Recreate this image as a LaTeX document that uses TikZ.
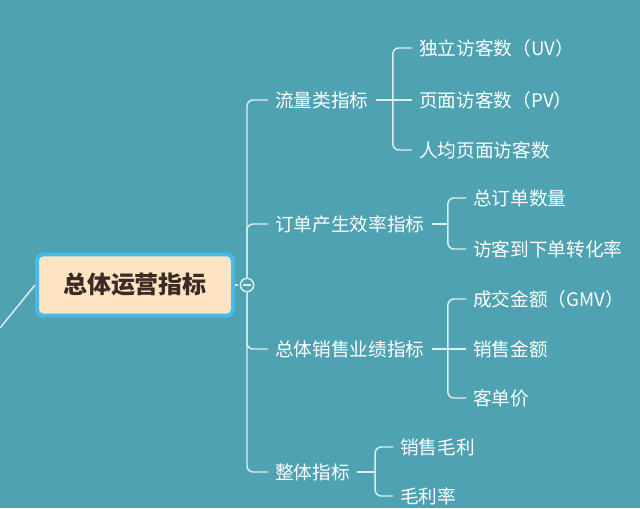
\documentclass[tikz,border=0pt]{standalone}
\usepackage{fontspec}
\newfontfamily\cjk{Noto Sans CJK SC}
\usetikzlibrary{calc}
\definecolor{teal bg}{RGB}{78,162,178}
\definecolor{link col}{RGB}{222,238,238}
\definecolor{root fill}{RGB}{255,228,196}
\definecolor{root edge}{RGB}{72,186,232}
\definecolor{root text}{RGB}{58,44,36}

\begin{document}
\begin{tikzpicture}[x=0.75pt, y=-0.75pt,
  every node/.style={font=\cjk\fontsize{14}{16}\selectfont, text=white, inner xsep=5.25pt, inner ysep=2pt},
  link/.style={draw=link col, line width=1.1pt},
  elbow/.style={link, rounded corners=4.5pt},
  leaf/.style={anchor=west}]
  % canvas 640 x 508 px
  \fill[teal bg] (0,0) rectangle (640,508);
  \useasboundingbox (0,0) rectangle (640,508);
  % root and its collapse dot
  \node[fill=root fill, draw=root edge, line width=3pt, rounded corners=5pt,
        minimum width=147pt, minimum height=46pt, text=root text,
        font=\cjk\bfseries\fontsize{18}{20}\selectfont] (root) at (135,285) {总体运营指标};
  \coordinate (incoming) at (0,328);
  \draw[link] (incoming) -- (root.west);
  \node[draw=link col, line width=1.1pt, circle, minimum size=10pt, inner sep=0pt] (dot) at (247,285) {};
  \draw[link col, line width=1.1pt] ($(dot.center)+(-4,0)$) -- ($(dot.center)+(4,0)$);
  \draw[link, dashed, dash pattern=on 2pt off 1.5pt] (root.east) -- (dot.west);
  % first level
  \node[leaf] (flow)  at (268,100) {流量类指标};
  \node[leaf] (order) at (268,224) {订单产生效率指标};
  \node[leaf] (sales) at (268,349) {总体销售业绩指标};
  \node[leaf] (whole) at (268,472) {整体指标};
  \draw[elbow] (dot.north) |- (flow.west);
  \draw[elbow] (dot.north) |- (order.west);
  \draw[elbow] (dot.south) |- (sales.west);
  \draw[elbow] (dot.south) |- (whole.west);
  % traffic
  \node[leaf] (uv)  at (412,48)  {独立访客数（UV）};
  \node[leaf] (pv)  at (412,100) {页面访客数（PV）};
  \node[leaf] (avg) at (412,150) {人均页面访客数};
  \path (flow.east) ++(17,0) coordinate (flowfork);
  \draw[link] (flow.east) -- (pv.west);
  \draw[elbow] (flowfork) |- (uv.west);
  \draw[elbow] (flowfork) |- (avg.west);
  % orders
  \node[leaf] (ordnum)  at (466,198) {总订单数量};
  \node[leaf] (convert) at (466,249) {访客到下单转化率};
  \path (order.east) ++(16,0) coordinate (orderfork);
  \draw[link] (order.east) -- (orderfork);
  \draw[elbow] (orderfork) |- (ordnum.west);
  \draw[elbow] (orderfork) |- (convert.west);
  % sales
  \node[leaf] (gmv)    at (466,299) {成交金额（GMV）};
  \node[leaf] (amount) at (466,349) {销售金额};
  \node[leaf] (price)  at (466,398) {客单价};
  \path (sales.east) ++(16,0) coordinate (salesfork);
  \draw[link] (sales.east) -- (amount.west);
  \draw[elbow] (salesfork) |- (gmv.west);
  \draw[elbow] (salesfork) |- (price.west);
  % overall
  \node[leaf] (profit) at (393,447) {销售毛利};
  \node[leaf] (margin) at (393,496) {毛利率};
  \path (whole.east) ++(18,0) coordinate (wholefork);
  \draw[link] (whole.east) -- (wholefork);
  \draw[elbow] (wholefork) |- (profit.west);
  \draw[elbow] (wholefork) |- (margin.west);
\end{tikzpicture}
\end{document}
